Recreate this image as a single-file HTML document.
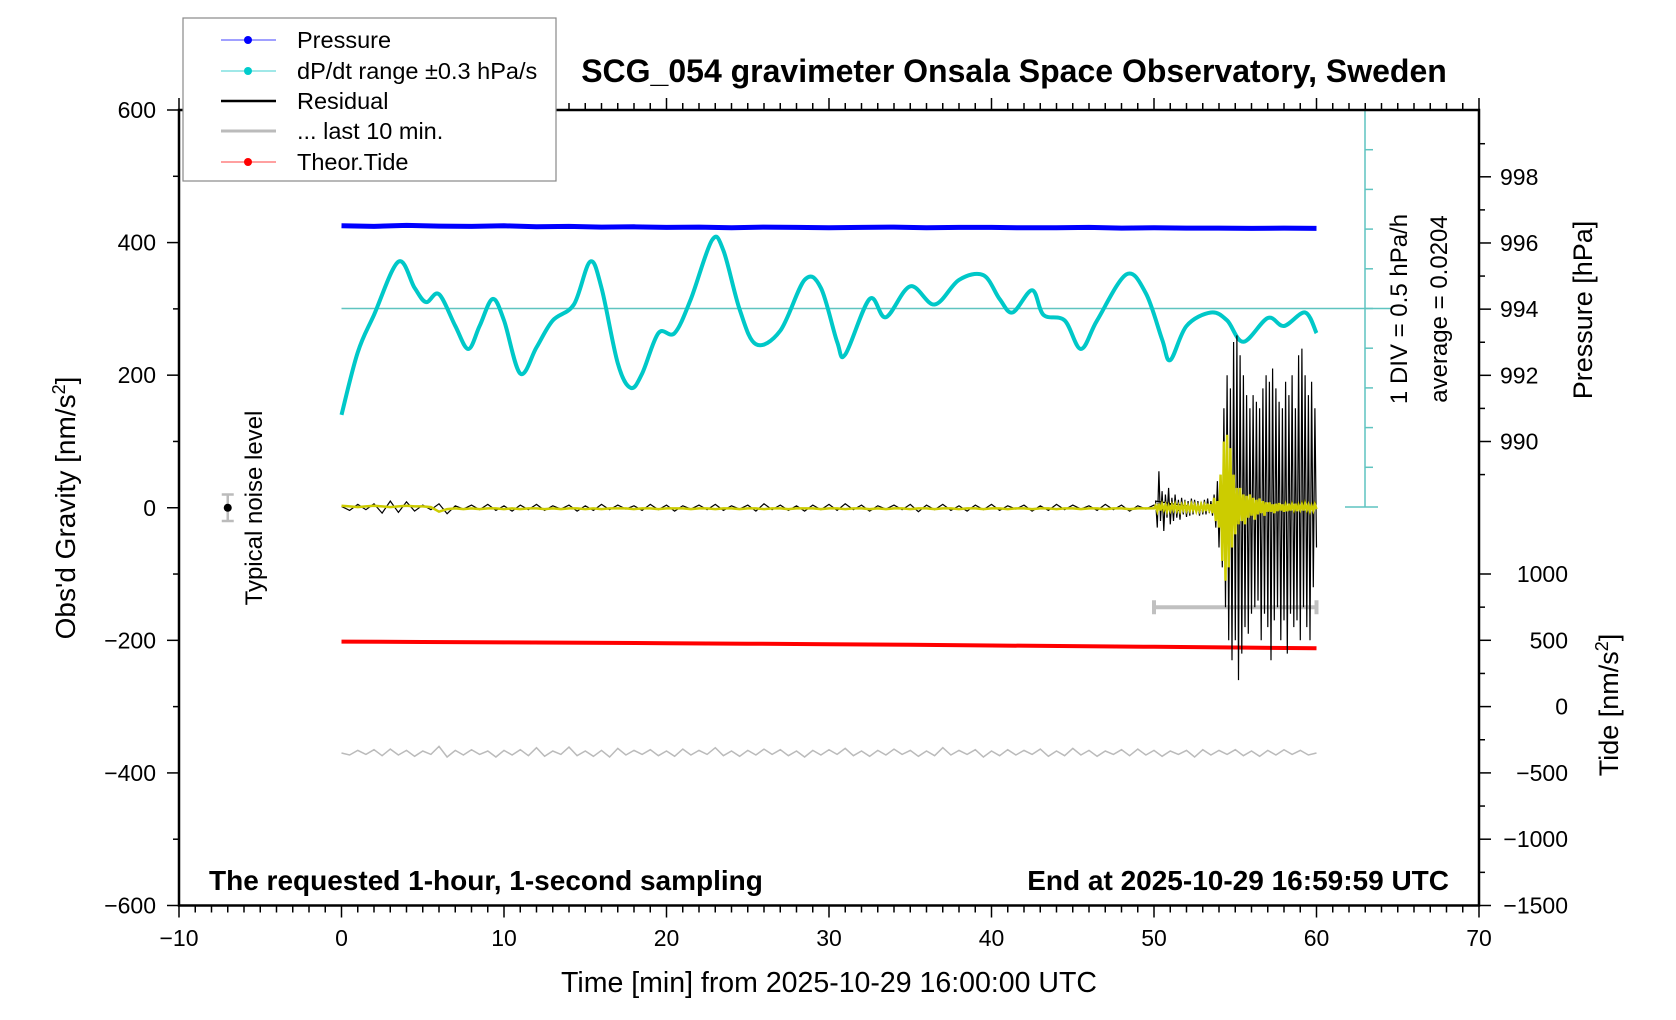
<!DOCTYPE html>
<html><head><meta charset="utf-8"><style>
html,body{margin:0;padding:0;background:#fff;}
svg{display:block;font-family:"Liberation Sans",sans-serif;}
</style></head><body>
<svg id="chart" width="1676" height="1020" viewBox="0 0 1676 1020" xmlns="http://www.w3.org/2000/svg">
<g id="marks"></g>
<g id="axes"></g>
<text x="1014" y="82" font-size="32" font-weight="bold" text-anchor="middle">SCG_054 gravimeter Onsala Space Observatory, Sweden</text>
<g>
<rect x="183" y="18" width="373" height="163" fill="#fff" stroke="#888" stroke-width="1.2"/>
<g><line x1="221" y1="40" x2="276" y2="40" stroke="#4040ff" stroke-width="1"/><circle cx="248" cy="40" r="4" fill="#0000ff"/><text x="297" y="48" font-size="23.5">Pressure</text></g>
<g><line x1="221" y1="71" x2="276" y2="71" stroke="#40d0d0" stroke-width="1"/><circle cx="248" cy="71" r="4" fill="#00cccc"/><text x="297" y="79" font-size="23.5">dP/dt range ±0.3 hPa/s</text></g>
<g><line x1="221" y1="101" x2="276" y2="101" stroke="#000" stroke-width="2.5"/><text x="297" y="109" font-size="23.5">Residual</text></g>
<g><line x1="221" y1="131" x2="276" y2="131" stroke="#bbb" stroke-width="3"/><text x="297" y="139" font-size="23.5">... last 10 min.</text></g>
<g><line x1="221" y1="162" x2="276" y2="162" stroke="#ff4040" stroke-width="1"/><circle cx="248" cy="162" r="4" fill="#ff0000"/><text x="297" y="170" font-size="23.5">Theor.Tide</text></g>
</g>
<text x="209" y="890" font-size="28" font-weight="bold">The requested 1‑hour, 1‑second sampling</text>
<text x="1449" y="890" font-size="28" font-weight="bold" text-anchor="end">End at 2025‑10‑29 16:59:59 UTC</text>
<text x="829" y="992" font-size="28.5" text-anchor="middle">Time [min] from 2025‑10‑29 16:00:00 UTC</text>
<text transform="translate(75,508) rotate(-90)" font-size="28" text-anchor="middle">Obs'd Gravity [nm/s<tspan dy="-10" font-size="18">2</tspan><tspan dy="10">]</tspan></text>
<text transform="translate(1592,310) rotate(-90)" font-size="27" text-anchor="middle">Pressure [hPa]</text>
<text transform="translate(1618,705) rotate(-90)" font-size="27" text-anchor="middle">Tide [nm/s<tspan dy="-10" font-size="18">2</tspan><tspan dy="10">]</tspan></text>
<text transform="translate(1407,309) rotate(-90)" font-size="24" text-anchor="middle">1 DIV = 0.5 hPa/h</text>
<text transform="translate(1447,309) rotate(-90)" font-size="24" text-anchor="middle">average = 0.0204</text>
<text transform="translate(262,508) rotate(-90)" font-size="24" text-anchor="middle">Typical noise level</text>
</svg>
<script>
const xTicks=[-10,0,10,20,30,40,50,60,70];
const yTicks=[600,400,200,0,-200,-400,-600];
const pTicks=[990,992,994,996,998];
const tideTicks=[1000,500,0,-500,-1000,-1500];
const pressureStep=2;
const pressureVals=[996.52,996.50,996.53,996.51,996.50,996.52,996.49,996.50,996.48,996.49,996.47,996.48,996.46,996.48,996.47,996.46,996.47,996.48,996.46,996.47,996.47,996.46,996.46,996.47,996.45,996.46,996.45,996.45,996.44,996.45,996.44];
const dpdtT=[0,1,2,3.5,4.5,5.2,6,7,7.8,8.5,9.3,10,11,12,13,14.3,15.3,16,17,17.8,18.5,19.5,20.5,21.5,22.8,23.5,24.5,25.5,27,28.5,29.5,30.5,31,32.5,33.5,35,36.5,38,39.5,40.5,41.3,42.5,43.2,44.5,45.5,46.5,48.3,49.5,50.5,51,52,53.5,54.5,55.5,57,58,59.3,60];
const dpdtV=[-1.34,-0.55,-0.08,0.59,0.26,0.08,0.18,-0.22,-0.51,-0.22,0.12,-0.15,-0.82,-0.49,-0.15,0.05,0.59,0.26,-0.69,-1.0,-0.82,-0.31,-0.31,0.12,0.86,0.73,-0.01,-0.45,-0.28,0.36,0.26,-0.42,-0.58,0.12,-0.11,0.28,0.05,0.36,0.42,0.12,-0.05,0.23,-0.08,-0.15,-0.51,-0.15,0.43,0.19,-0.39,-0.65,-0.22,-0.05,-0.15,-0.42,-0.12,-0.22,-0.05,-0.31];
const quietStep=0.5;
const residQuiet=[2,-4,5,-3,6,-8,10,-7,9,-5,4,-3,6,-9,3,-2,4,-3,5,-4,3,-5,4,-3,5,-4,3,-2,4,-5,3,-4,5,-3,4,-2,3,-4,5,-3,4,-5,3,-2,4,-3,5,-4,3,-2,4,-5,6,-3,4,-4,3,-5,4,-3,5,-4,6,-3,4,-5,3,-2,4,-3,5,-6,4,-3,5,-4,3,-5,4,-3,5,-4,3,-2,4,-5,3,-4,5,-3,4,-2,3,-4,5,-3,4,-5,3,-2,4,-3,5,-4,3];
const yellowQuiet=[3,2,1,2,3,2,1,2,3,2,2,1,-6,-2,-1,-2,-1,-2,-1,-1,-2,-1,-2,-1,-1,-2,-1,-2,-1,-1,-2,-1,-2,-1,-1,-1,-2,-1,-1,-2,-1,-1,-1,-2,-1,-1,-2,-1,-1,-2,-1,-1,-2,-1,-1,-2,-1,-1,-1,-2,-1,-1,-2,-1,-1,-2,-1,-2,-1,-1,-2,-1,-1,-2,-1,-1,-2,-1,-1,-2,-1,-1,-2,-1,-1,-2,-1,-1,-2,-1,-1,-2,-1,-1,-2,-1,-1,-2,-1,-1,-1];
const quakeStart=50, quakeStep=0.1;
const residQuake=[10,-30,55,-20,25,-35,20,-15,30,-25,15,-20,20,-15,12,-18,15,-10,12,-14,10,-12,14,-10,12,-8,10,-12,9,-10,12,-10,14,-8,10,-12,20,-30,40,-60,30,-90,150,-150,200,-200,180,-230,250,-200,260,-260,230,-220,200,-180,170,-190,150,-160,170,-150,160,-140,150,-200,180,-160,200,-180,190,-230,210,-170,180,-150,160,-200,150,-170,190,-220,170,-160,200,-180,150,-170,230,-200,240,-150,200,-180,170,-200,190,-120,150,-60];
const yellowQuake=[3,-5,6,-4,5,-3,4,-5,3,-4,4,-3,5,-4,3,-5,4,-3,5,-4,3,-4,5,-3,4,-5,3,-4,5,-3,4,-5,6,-3,5,-8,15,-20,10,-30,50,-80,100,-110,110,-90,90,-60,50,-40,30,-25,30,-20,20,-25,18,-15,20,-12,15,-18,12,-10,14,-8,10,-12,8,-6,8,-6,5,-8,6,-5,7,-4,5,-6,4,-5,6,-4,5,-3,6,-5,4,-3,5,-4,6,-3,4,-5,3,-4,5,-2];
const grayOffset=-370;
const grayVals=[0,-3,4,-2,5,-4,6,-3,4,-5,3,-2,10,-6,4,-3,5,-2,3,-6,4,-3,5,-4,8,-5,3,-2,9,-4,3,-5,4,-6,7,-3,4,-2,5,-4,3,-5,6,-3,4,-2,8,-4,3,-5,4,-3,6,-2,5,-4,3,-6,4,-3,5,-2,7,-4,3,-5,4,-3,6,-2,4,-5,3,-4,8,-3,4,-2,5,-6,3,-4,5,-3,4,-2,6,-5,3,-4,7,-3,4,-5,3,-2,5,-4,6,-3,4,-5,3,-2,4,-6,5,-3,4,-2,5,-4,3,-5,4,-3,5,-2,4,-3,0];
const barLevel=-150, barFrom=50, barTo=60;
const tideStep=5;
const tideVals=[490,487,484,481,478,474,470,466,461,456,451,446,440];
const noiseT=-7, noiseV=0, noiseErr=20;

const X0=179,X1=1479,Y0=110,Y1=905.5;
const sx=t=>X0+(t+10)/80*(X1-X0);
const sy=v=>Y0+(600-v)/1200*(Y1-Y0);
const sp=p=>176.8+(998-p)*(441.5-176.8)/8;
const st=v=>905.5-(v+1500)*(905.5-574)/2500;
const sd=v=>308.5-v*(507-110)/5;
const NS='http://www.w3.org/2000/svg';
const marks=document.getElementById('marks'), axes=document.getElementById('axes');
function mk(tag,attrs,parent){const e=document.createElementNS(NS,tag);for(const k in attrs)e.setAttribute(k,attrs[k]);parent.appendChild(e);return e;}
function poly(pts){return pts.map((p,i)=>(i?'L':'M')+p[0].toFixed(1)+' '+p[1].toFixed(1)).join(' ');}
function smooth(pts){let d='M'+pts[0][0]+' '+pts[0][1];for(let i=0;i<pts.length-1;i++){const p0=pts[i-1]||pts[i],p1=pts[i],p2=pts[i+1],p3=pts[i+2]||p2;d+=' C'+(p1[0]+(p2[0]-p0[0])/6).toFixed(1)+' '+(p1[1]+(p2[1]-p0[1])/6).toFixed(1)+' '+(p2[0]-(p3[0]-p1[0])/6).toFixed(1)+' '+(p2[1]-(p3[1]-p1[1])/6).toFixed(1)+' '+p2[0].toFixed(1)+' '+p2[1].toFixed(1);}return d;}

let e;
e=mk('line',{x1:sx(0),x2:sx(64.7),y1:sd(0),y2:sd(0),stroke:'#5fc4c0','stroke-width':1.5},marks);


const dg=mk('g',{stroke:'#5fc4c0','stroke-width':1.5},marks);


mk('line',{x1:1365,x2:1365,y1:sd(2.5),y2:sd(-2.5)},dg);
mk('line',{x1:1345,x2:1378,y1:sd(2.5),y2:sd(2.5)},dg);
mk('line',{x1:1345,x2:1378,y1:sd(-2.5),y2:sd(-2.5)},dg);
for(let k=-4;k<=4;k++){mk('line',{x1:1365,x2:1373,y1:sd(k*0.5),y2:sd(k*0.5)},dg);}

e=mk('path',{d:poly(pressureVals.map((v,i)=>[sx(i*pressureStep),sp(v)])),fill:'none',stroke:'#0000ff','stroke-width':5},marks);


e=mk('path',{d:smooth(dpdtT.map((t,i)=>[sx(t),sd(dpdtV[i])])),fill:'none',stroke:'#00c8c8','stroke-width':4},marks);


e=mk('path',{d:poly(grayVals.slice(0,121).map((v,i)=>[sx(i*quietStep),sy(grayOffset+v)])),fill:'none',stroke:'#bbb','stroke-width':1.5},marks);


e=mk('path',{d:'M'+sx(barFrom)+' '+sy(barLevel)+' H'+sx(barTo)+' M'+sx(barFrom)+' '+(sy(barLevel)-7)+' V'+(sy(barLevel)+7)+' M'+sx(barTo)+' '+(sy(barLevel)-7)+' V'+(sy(barLevel)+7),fill:'none',stroke:'#c0c0c0','stroke-width':4},marks);


e=mk('path',{d:poly(tideVals.map((v,i)=>[sx(i*tideStep),st(v)])),fill:'none',stroke:'#ff0000','stroke-width':4},marks);


const rPts=residQuiet.map((v,i)=>[sx(i*quietStep),sy(v)]).concat(residQuake.map((v,i)=>[sx(quakeStart+(i+1)*quakeStep),sy(v)]));
e=mk('path',{d:poly(rPts),fill:'none',stroke:'#000','stroke-width':1.2},marks);


const yPts=yellowQuiet.map((v,i)=>[sx(i*quietStep),sy(v)]).concat(yellowQuake.map((v,i)=>[sx(quakeStart+(i+1)*quakeStep),sy(v)]));
e=mk('path',{d:poly(yPts),fill:'none',stroke:'#cccc00','stroke-width':2.5},marks);


const ng=mk('g',{},marks);


mk('path',{d:'M'+sx(noiseT)+' '+sy(noiseV+noiseErr)+' V'+sy(noiseV-noiseErr)+' M'+(sx(noiseT)-6)+' '+sy(noiseV+noiseErr)+' h12 M'+(sx(noiseT)-6)+' '+sy(noiseV-noiseErr)+' h12',stroke:'#bbb','stroke-width':2.5,fill:'none'},ng);
mk('circle',{cx:sx(noiseT),cy:sy(noiseV),r:4,fill:'#000'},ng);

e=mk('rect',{x:X0,y:Y0,width:X1-X0,height:Y1-Y0,fill:'none',stroke:'#000','stroke-width':2.5},axes);


const tg=mk('g',{stroke:'#000','stroke-width':1.5},axes);
for(let t=-10;t<=70;t++){const L=t%10===0?12:7;mk('line',{x1:sx(t),x2:sx(t),y1:Y1,y2:Y1+L},tg);mk('line',{x1:sx(t),x2:sx(t),y1:Y0,y2:Y0-L},tg);}
for(let v=-600;v<=600;v+=100){const L=v%200===0?12:6;mk('line',{x1:X0,x2:X0-L,y1:sy(v),y2:sy(v)},tg);}
for(let p=989;p<=999;p++){const L=p%2===0?12:6;mk('line',{x1:X1,x2:X1+L,y1:sp(p),y2:sp(p)},tg);}
for(let v=-1500;v<=1000;v+=250){const L=v%500===0?12:6;mk('line',{x1:X1,x2:X1+L,y1:st(v),y2:st(v)},tg);}
xTicks.forEach(t=>{const el=mk('text',{x:sx(t),y:946,'font-size':23,'text-anchor':'middle'},axes);el.textContent=String(t).replace('-','−');

});
yTicks.forEach(v=>{const el=mk('text',{x:156,y:sy(v)+8,'font-size':23,'text-anchor':'end'},axes);el.textContent=String(v).replace('-','−');

});
pTicks.forEach(p=>{const el=mk('text',{x:1500,y:sp(p)+8,'font-size':23},axes);el.textContent=p;

});
tideTicks.forEach(v=>{const el=mk('text',{x:1568,y:st(v)+8,'font-size':23,'text-anchor':'end'},axes);el.textContent=String(v).replace('-','−');

});
</script>
</body></html>
